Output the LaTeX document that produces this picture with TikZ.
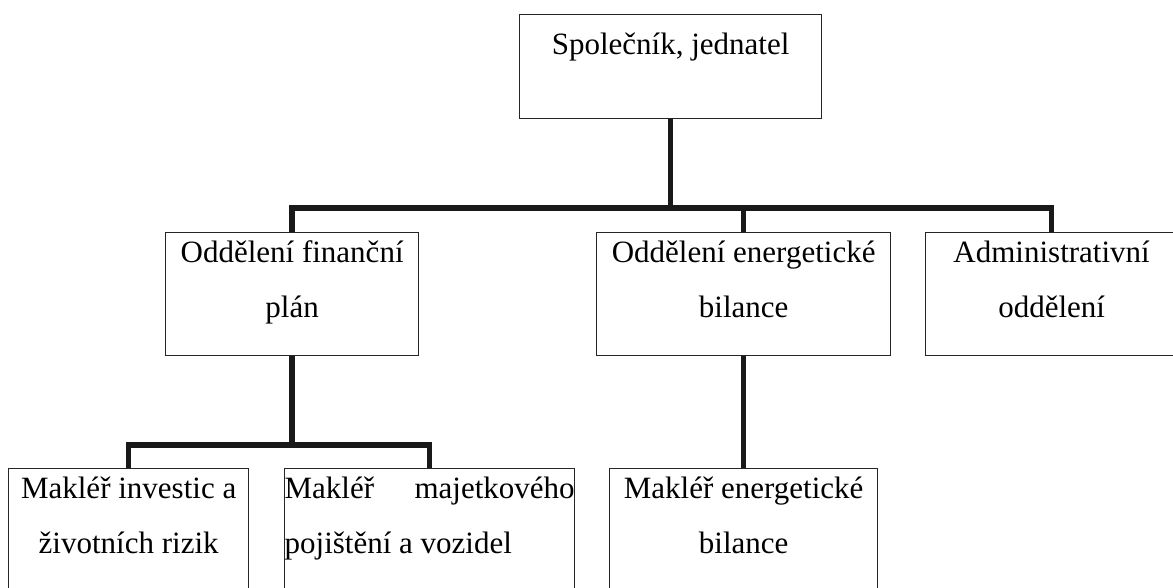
\documentclass[tikz,border=0pt]{standalone}
\usepackage{fontspec}
\setmainfont{Liberation Serif}
\usetikzlibrary{positioning}

\newcommand{\orgtext}[4][15pt]{\parbox[c][#3][t]{#2}{\centering\rule{0pt}{#1}#4\par}}

\begin{document}
\begin{tikzpicture}[x=0.5pt, y=-0.5pt,
        unit/.style={rectangle, draw=black!85, line width=0.65pt, inner sep=0pt, anchor=north west, font={\fontsize{15.5pt}{27.5pt}\selectfont}},
        link/.style={draw=black!90, line width=2.8pt}
    ]
    \useasboundingbox (0,0) rectangle (1173,588);
    \clip (0,0) rectangle (1173,588);
    % Head
    \node[unit] (head) at (519,14) {\orgtext[20pt]{151pt}{52pt}{Společník, jednatel}};
    % Departments
    \node[unit] (fin) at (165,232) {\orgtext{126.5pt}{61.5pt}{Oddělení finanční\\plán}};
    \node[unit] (ene) at (596,232) {\orgtext{147pt}{61.5pt}{Oddělení energetické\\bilance}};
    \node[unit] (adm) at (925,232) {\orgtext{126pt}{61.5pt}{Administrativní\\oddělení}};
    % Brokers
    \node[unit] (mak1) at (8,468) {\orgtext{120pt}{61.5pt}{Makléř investic a\\životních rizik}};
    \node[unit] (mak2) at (284,468) {\orgtext{145pt}{61.5pt}{\raggedright Makléř\hfill majetkového\\pojištění a vozidel}};
    \node[unit] (mak3) at (609,468) {\orgtext{134pt}{61.5pt}{Makléř energetické\\bilance}};
    % Connections
    \draw[link] (head.south) -- ++(0,90);
    \draw[link] (fin.north) -- ++(0,-24) -| (adm.north);
    \draw[link] (ene.north) -- ++(0,-24);
    \draw[link] (fin.south) -- ++(0,90);
    \draw[link] (mak1.north) -- ++(0,-23) -| (mak2.north);
    \draw[link] (ene.south) -- (mak3.north);
\end{tikzpicture}
\end{document}
